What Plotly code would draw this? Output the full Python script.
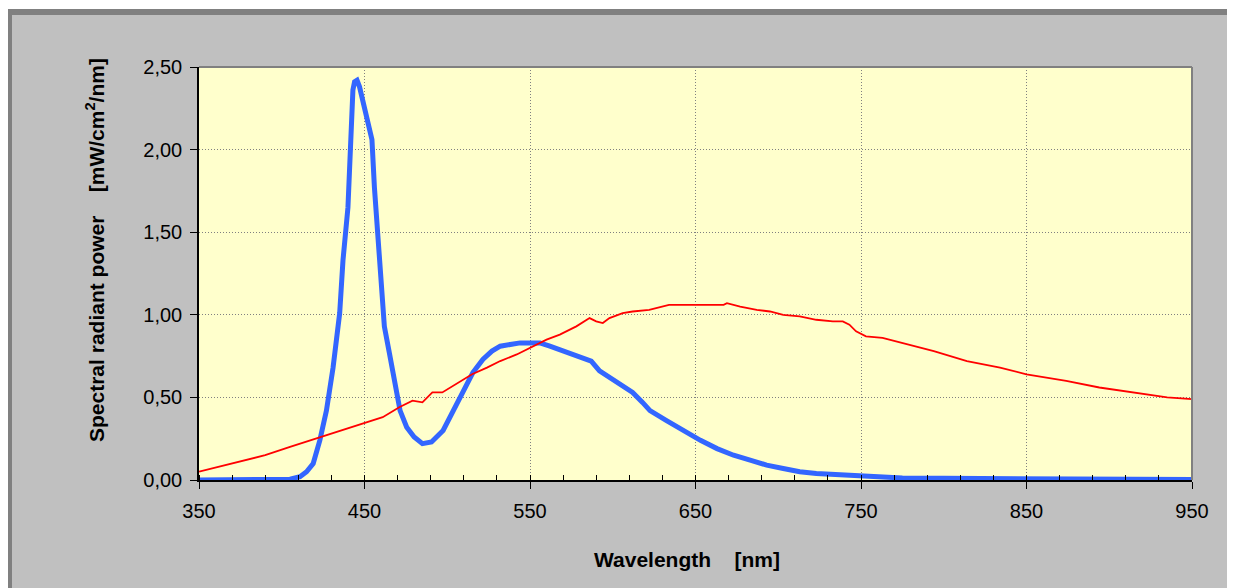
import plotly.graph_objects as go

# ---------------- data ----------------
blue_wl = [350, 380, 405, 411, 415, 419, 423, 427, 431, 435, 437, 440, 442, 443, 444,
           445.5, 447, 449, 451.5, 454.5, 456, 458, 460.5, 462, 465, 468, 471.5, 475.5,
           480, 485, 490.5, 497.5, 503.5, 509.5, 515.5, 521.5, 527, 532, 538, 544, 550,
           556, 562, 568, 574, 580, 587, 592, 598, 605, 612, 618, 622.5, 632.5, 642.5,
           653, 663, 673, 683, 693, 703, 713, 723, 733, 743, 753, 765, 775, 800, 835,
           845, 900, 950]
blue_val = [0, 0, 0.005, 0.02, 0.05, 0.10, 0.24, 0.42, 0.68, 1.01, 1.33, 1.65, 2.12, 2.36,
            2.41, 2.42, 2.38, 2.30, 2.20, 2.06, 1.77, 1.45, 1.13, 0.93, 0.77, 0.61, 0.42,
            0.32, 0.26, 0.22, 0.23, 0.30, 0.42, 0.54, 0.65, 0.73, 0.78, 0.81, 0.82, 0.83,
            0.83, 0.83, 0.81, 0.79, 0.77, 0.75, 0.72, 0.66, 0.62, 0.57, 0.53, 0.47, 0.42,
            0.36, 0.30, 0.24, 0.19, 0.15, 0.12, 0.09, 0.07, 0.05, 0.04, 0.035, 0.03, 0.02,
            0.015, 0.012, 0.01, 0.008, 0.004, 0.003, 0.003]

red_wl = [350, 370, 390, 405, 430, 451, 461, 471, 479, 485, 491, 497, 507, 515, 524, 532,
          542, 550, 560, 568, 578, 586, 590, 594, 598, 606, 612, 622, 634, 653, 667, 669,
          677, 687, 695, 703, 713, 723, 733, 739, 743, 747, 753, 763, 774, 794, 814, 834,
          850, 874, 894, 914, 935, 950]
red_val = [0.05, 0.10, 0.15, 0.20, 0.28, 0.35, 0.38, 0.44, 0.48, 0.47, 0.53, 0.53, 0.59,
           0.64, 0.68, 0.72, 0.76, 0.80, 0.85, 0.88, 0.93, 0.98, 0.96, 0.95, 0.98, 1.01,
           1.02, 1.03, 1.06, 1.06, 1.06, 1.07, 1.05, 1.03, 1.02, 1.00, 0.99, 0.97, 0.96,
           0.96, 0.94, 0.90, 0.87, 0.86, 0.83, 0.78, 0.72, 0.68, 0.64, 0.60, 0.56, 0.53,
           0.50, 0.49]

x_title = "Wavelength\u00a0\u00a0\u00a0\u00a0[nm]"
y_title = "Spectral radiant power\u00a0\u00a0\u00a0\u00a0[mW/cm<sup>2</sup>/nm]"

# ---------------- layout geometry (figure pixels; page adds 8px body margin) ----
W, H = 1227, 580
L, R, T, B = 191, 1184, 59, 472


def px2x(px):
    return (px - L) / (R - L)


def py2y(py):
    return (B - py) / (B - T)


FONT = "Liberation Sans, Arial, sans-serif"

fig = go.Figure()
fig.add_trace(go.Scatter(x=blue_wl, y=blue_val, mode="lines",
                         line=dict(color="#3366FF", width=5), hoverinfo="skip"))
fig.add_trace(go.Scatter(x=red_wl, y=red_val, mode="lines",
                         line=dict(color="#FF0000", width=1.8), hoverinfo="skip"))

shapes = []
# dark frame bands along the top and left edges of the figure
for (x0, y0, x1, y1, c) in [
    (0, 0, W, 1, "white"),
    (0, 1, W, 7, "#808080"),
    (0, 1, 4, H, "#808080"),
]:
    shapes.append(dict(type="rect", xref="paper", yref="paper",
                       x0=px2x(x0), x1=px2x(x1), y0=py2y(y1), y1=py2y(y0),
                       fillcolor=c, line=dict(width=0), layer="below"))
# plot-area top and right border (gray)
shapes.append(dict(type="line", xref="paper", yref="paper", x0=0, x1=1, y0=1, y1=1,
                   line=dict(color="#808080", width=2), layer="above"))
shapes.append(dict(type="line", xref="paper", yref="paper", x0=1, x1=1, y0=0, y1=1,
                   line=dict(color="#808080", width=2), layer="above"))

annotations = [
    dict(text="<b>" + x_title + "</b>", xref="paper", yref="paper",
         x=px2x(679), y=py2y(551), xanchor="center", yanchor="middle",
         showarrow=False, font=dict(family=FONT, size=21, color="black")),
    dict(text="<b>" + y_title + "</b>", xref="paper", yref="paper",
         x=px2x(87), y=py2y(242), xanchor="center", yanchor="middle",
         textangle=-90, showarrow=False, font=dict(family=FONT, size=21, color="black")),
]

fig.update_layout(
    width=W, height=H,
    margin=dict(l=L, r=W - R, t=T, b=H - B, pad=0),
    paper_bgcolor="#C0C0C0",
    plot_bgcolor="#FFFFCC",
    separators=",.",
    showlegend=False,
    shapes=shapes,
    annotations=annotations,
    font=dict(family=FONT, size=20, color="black"),
)
fig.update_xaxes(
    range=[350, 950], tick0=350, dtick=100,
    ticks="outside", ticklen=7, tickwidth=1, tickcolor="black",
    showline=True, linecolor="black", linewidth=1.5,
    showgrid=True, gridcolor="#808080", gridwidth=1, griddash="1px,2px",
    zeroline=False,
    minor=dict(ticks="inside", tick0=350, dtick=20, ticklen=5, tickcolor="black",
               showgrid=False),
    tickfont=dict(family=FONT, size=20, color="black"),
    ticklabelstandoff=5,
)
fig.update_yaxes(
    range=[0, 2.5], tick0=0, dtick=0.5, tickformat=".2f",
    ticks="outside", ticklen=7, tickwidth=1, tickcolor="black",
    showline=True, linecolor="black", linewidth=1.5,
    showgrid=True, gridcolor="#808080", gridwidth=1, griddash="1px,2px",
    zeroline=False,
    tickfont=dict(family=FONT, size=20, color="black"),
    ticklabelstandoff=4,
)

fig.write_html("out.html")
